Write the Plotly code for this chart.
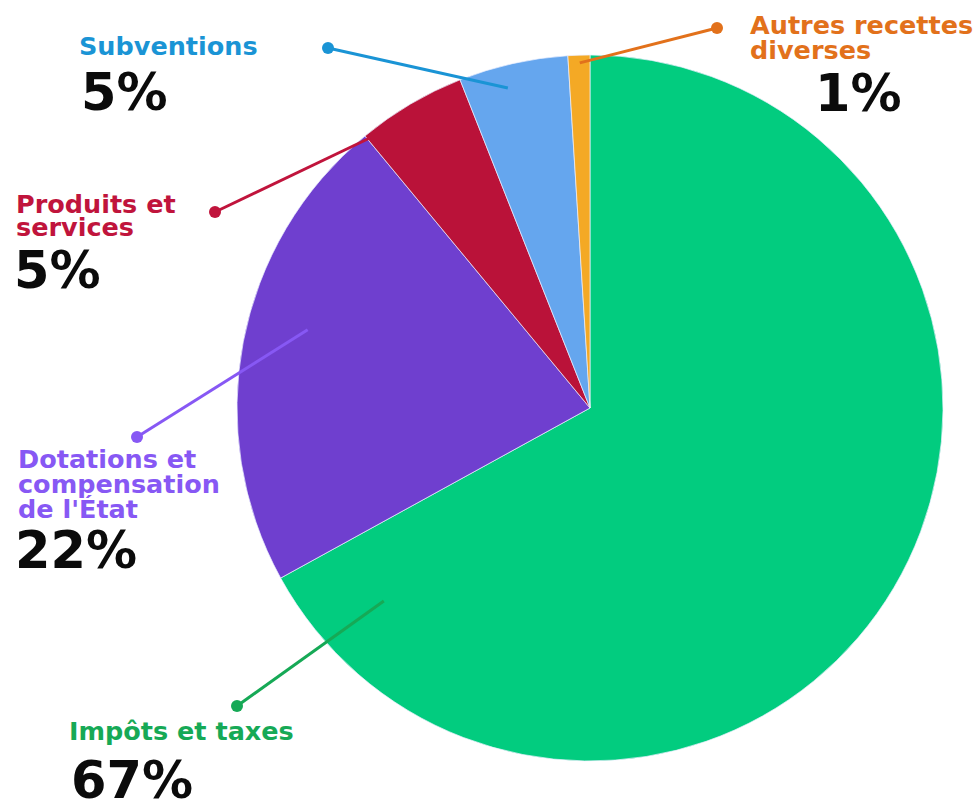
import math
import plotly.graph_objects as go

# Revenue breakdown
categories = [
    "Impôts et taxes",
    "Dotations et compensation de l'État",
    "Produits et services",
    "Subventions",
    "Autres recettes diverses",
]
shares = [67, 22, 5, 5, 1]
percent_labels = ["67%", "22%", "5%", "5%", "1%"]

slice_colors = ["#02CC7F", "#6F3FCF", "#BA1239", "#65A6EE", "#F4A925"]
label_colors = ["#16A956", "#8758F4", "#C0143C", "#1A94D5", "#E2711B"]

W, H = 980, 800
CX, CY, R = 590, 408, 353  # pie centre and radius in pixels


def px(x):
    return x / W


def py(y):
    return 1 - y / H


fig = go.Figure(
    go.Pie(
        labels=categories,
        values=shares,
        sort=False,
        direction="clockwise",
        rotation=0,
        textinfo="none",
        hoverinfo="label+percent",
        marker=dict(colors=slice_colors, line=dict(color="rgba(235,240,255,0.7)", width=1)),
        domain=dict(x=[px(CX - R), px(CX + R)], y=[py(CY + R), py(CY - R)]),
        showlegend=False,
    )
)

# Label layout: text lines (left x, line centres), percentage, callout dot and
# the point inside the pie (angle clockwise from 12 o'clock, fraction of radius)
layout_specs = [
    dict(lines=["Impôts et taxes"], x=68, ys=[731], pct_x=69, pct_y=780,
         dot=(237, 706), anchor=(226.9, 0.80)),
    dict(lines=["Dotations et", "compensation", "de l'État"], x=17, ys=[459, 484, 509],
         pct_x=13, pct_y=550, dot=(137, 437), anchor=(285.5, 0.83)),
    dict(lines=["Produits et", "services"], x=15, ys=[204, 227], pct_x=12, pct_y=270,
         dot=(215, 212), anchor=(320.8, 0.987)),
    dict(lines=["Subventions"], x=78, ys=[46], pct_x=79, pct_y=92,
         dot=(328, 48), anchor=(345.6, 0.936)),
    dict(lines=["Autres recettes", "diverses"], x=749, ys=[25, 50], pct_x=813, pct_y=94,
         dot=(717, 28), anchor=(358.3, 0.978)),
]

LABEL_FONT = "DejaVu Sans"
annotations = []
shapes = []
for spec, pct, tcol in zip(layout_specs, percent_labels, label_colors):
    for line, yy in zip(spec["lines"], spec["ys"]):
        annotations.append(dict(
            text=f"<b>{line}</b>", x=px(spec["x"]), y=py(yy), xref="paper", yref="paper",
            xanchor="left", yanchor="middle", showarrow=False, borderpad=0,
            font=dict(family=LABEL_FONT, size=25.5, color=tcol),
        ))
    annotations.append(dict(
        text=f"<b>{pct}</b>", x=px(spec["pct_x"]), y=py(spec["pct_y"]), xref="paper", yref="paper",
        xanchor="left", yanchor="middle", showarrow=False,
        font=dict(family=LABEL_FONT, size=51, color="#0B0B0B"),
    ))
    ang, frac = spec["anchor"]
    ex = CX + frac * R * math.sin(math.radians(ang))
    ey = CY - frac * R * math.cos(math.radians(ang))
    dx, dy = spec["dot"]
    shapes.append(dict(type="line", xref="paper", yref="paper",
                       x0=px(dx), y0=py(dy), x1=px(ex), y1=py(ey),
                       line=dict(color=tcol, width=3)))
    rd = 6
    shapes.append(dict(type="circle", xref="paper", yref="paper",
                       x0=px(dx - rd), x1=px(dx + rd), y0=py(dy + rd), y1=py(dy - rd),
                       fillcolor=tcol, line=dict(color=tcol, width=0)))

fig.update_layout(
    width=W, height=H,
    margin=dict(l=0, r=0, t=0, b=0),
    paper_bgcolor="white", plot_bgcolor="white",
    annotations=annotations, shapes=shapes,
)

fig.write_html("out.html")
